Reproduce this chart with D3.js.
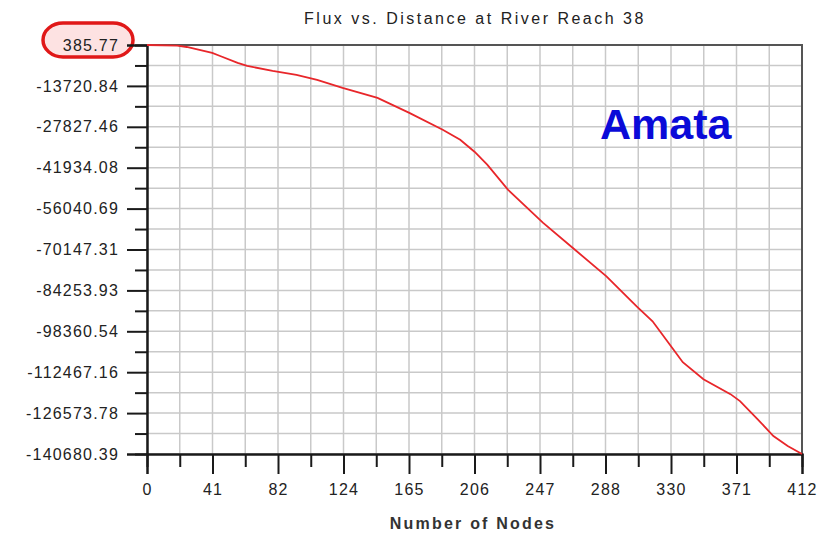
<!DOCTYPE html>
<html>
<head>
<script src="https://d3js.org/d3.v7.min.js"></script>
<style>
  body { margin: 0; background: #fff; }
  text { font-family: "Liberation Sans", Arial, sans-serif; }
</style>
</head>
<body>
<svg id="chart" width="832" height="536"></svg>
<script>
// node index along the reach and flux
const nodes = [0, 19, 25, 41, 46, 57, 63, 79, 94, 107, 123, 145, 165, 186, 197, 206, 214, 227,
  249, 269, 289, 308, 318, 331, 337, 350, 367, 373, 384, 394, 403, 412]
const flux = [385.77, 200, -302, -2367, -3399, -5807, -6839, -8560, -9936, -11656, -14409, -17850,
  -23010, -28860, -32300, -36429, -40902, -49503, -60857, -70147, -79436, -89757, -94918,
  -104552, -109025, -114874, -120034, -122443, -128636, -134485, -137925, -140680.39]
const xTickLabels = ["0", "41", "82", "124", "165", "206", "247", "288", "330", "371", "412"]
const yTickLabels = ["385.77", "-13720.84", "-27827.46", "-41934.08", "-56040.69", "-70147.31",
  "-84253.93", "-98360.54", "-112467.16", "-126573.78", "-140680.39"]
const title = "Flux vs. Distance at River Reach 38"
const xTitle = "Number of Nodes"
const tag = "Amata"

const plotLeft = 147, plotRight = 802, plotTop = 45, plotBottom = 454
const svg = d3.select("#chart")

const xMax = +xTickLabels[xTickLabels.length - 1]
const yVals = yTickLabels.map(Number)
const x = d3.scaleLinear().domain([0, xMax]).range([plotLeft, plotRight])
const y = d3.scaleLinear().domain([d3.min(yVals), d3.max(yVals)]).range([plotBottom, plotTop])

// major tick positions are even tenths, labels are rounded
const xMajor = xTickLabels.map((d, i) => xMax * i / (xTickLabels.length - 1))
const xMinor = xMajor.slice(1).map((d, i) => (d + xMajor[i]) / 2)
const yMinor = yVals.slice(1).map((d, i) => (d + yVals[i]) / 2)

// grid
const grid = svg.append("g")
grid.selectAll(".gx").data(xMajor.concat(xMinor)).join("line")
  .attr("x1", d => x(d)).attr("x2", d => x(d)).attr("y1", plotTop).attr("y2", plotBottom)
  .attr("stroke", "#c9c9c9").attr("stroke-width", 1.5)
grid.selectAll(".gy").data(yVals.concat(yMinor)).join("line")
  .attr("x1", plotLeft).attr("x2", plotRight).attr("y1", d => y(d)).attr("y2", d => y(d))
  .attr("stroke", "#c9c9c9").attr("stroke-width", 1.5)

// frame top / right
svg.append("path")
  .attr("d", `M${plotLeft},${plotTop}H${plotRight}V${plotBottom}`)
  .attr("fill", "none").attr("stroke", "#555").attr("stroke-width", 2)

// highlight around the top label
svg.append("rect")
  .attr("x", 43).attr("y", 23).attr("width", 90).attr("height", 34)
  .attr("rx", 20).attr("ry", 17)
  .attr("fill", "#fde2e2").attr("stroke", "#e01818").attr("stroke-width", 3.5)

// axes
svg.append("g").attr("transform", `translate(${plotLeft},0)`)
  .call(d3.axisLeft(y).tickValues(yVals).tickSize(20).tickPadding(8)
    .tickFormat((d, i) => yTickLabels[i]))
svg.append("g").attr("transform", `translate(${plotLeft},0)`)
  .call(d3.axisLeft(y).tickValues(yMinor).tickSize(12).tickFormat(""))
svg.append("g").attr("transform", `translate(0,${plotBottom})`)
  .call(d3.axisBottom(x).tickValues(xMajor).tickSize(20).tickPadding(10)
    .tickFormat((d, i) => xTickLabels[i]))
svg.append("g").attr("transform", `translate(0,${plotBottom})`)
  .call(d3.axisBottom(x).tickValues(xMinor).tickSize(13).tickFormat(""))

svg.selectAll(".domain").attr("stroke", "#1a1a1a").attr("stroke-width", 2)
svg.selectAll(".tick line").attr("stroke", "#1a1a1a").attr("stroke-width", 2)
svg.selectAll(".tick text")
  .attr("font-size", 16).attr("letter-spacing", 1.2).attr("fill", "#222")
  .attr("font-family", "'Liberation Sans', Arial, sans-serif")

// flux line
svg.append("path")
  .datum(nodes.map((n, i) => [n, flux[i]]))
  .attr("fill", "none").attr("stroke", "#e8262a").attr("stroke-width", 1.8)
  .attr("d", d3.line().x(d => x(d[0])).y(d => y(d[1])))

// titles
svg.append("text").text(title)
  .attr("x", 475).attr("y", 24).attr("text-anchor", "middle")
  .attr("font-size", 16).attr("letter-spacing", 2.5).attr("fill", "#222")
svg.append("text").text(xTitle)
  .attr("x", 473).attr("y", 529).attr("text-anchor", "middle")
  .attr("font-size", 16).attr("letter-spacing", 2.2).attr("fill", "#333")
  .attr("font-weight", "bold")
svg.append("text").text(tag)
  .attr("x", 600).attr("y", 139)
  .attr("font-size", 43).attr("font-weight", "bold").attr("fill", "#0a0ad8")
</script>
</body>
</html>
